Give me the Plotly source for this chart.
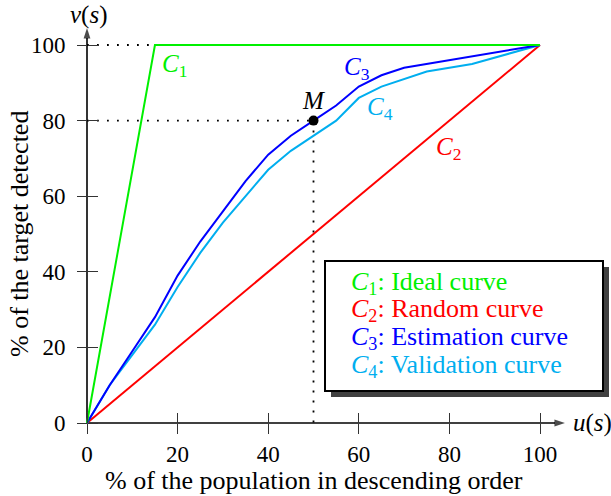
import plotly.graph_objects as go

# ---------------- data ----------------
tick_vals = [0, 20, 40, 60, 80, 100]
tick_text = ["0", "20", "40", "60", "80", "100"]

c1_x = [0, 15, 100]
c1_y = [0, 100, 100]
c2_x = [0, 100]
c2_y = [0, 100]
c3_x = [0, 5, 10, 15, 20, 25, 30, 35, 40, 45, 50, 55, 60, 65, 70, 85, 100]
c3_y = [0, 10, 19, 28, 39, 48, 56, 64, 71, 76, 80, 84, 89, 92, 94, 97, 100]
c4_x = [0, 5, 10, 15, 20, 25, 30, 35, 40, 45, 50, 55, 60, 65, 75, 85, 100]
c4_y = [0, 10, 18, 26, 36, 45, 53, 60, 67, 72, 76, 80, 86, 89, 93, 95, 100]
m_x, m_y = 50, 80
x_axis_end, y_axis_end = 105.5, 104.5

legend_names = ["Ideal curve", "Random curve", "Estimation curve", "Validation curve"]

# ---------------- style ----------------
GREEN = "#00f000"
RED = "#ff0000"
BLUE = "#0000ff"
CYAN = "#00aeef"
FONT = "Liberation Serif"

W, H = 611, 496
OX, OY = 87, 423          # pixel position of the origin
PX_X = 4.53               # px per unit
PX_Y = 3.78
xr = [-OX / PX_X, (W - OX) / PX_X]
yr = [-(H - OY) / PX_Y, OY / PX_Y]


def px2x(p):
    return (p - OX) / PX_X


def px2y(p):
    return (OY - p) / PX_Y


fig = go.Figure()

dot = dict(color="black", width=1.8, dash="1.8px,8.2px")
fig.add_trace(go.Scatter(x=[0, c1_x[1]], y=[100, 100], mode="lines", line=dot, hoverinfo="skip"))
fig.add_trace(go.Scatter(x=[0, m_x], y=[m_y, m_y], mode="lines", line=dot, hoverinfo="skip"))
fig.add_trace(go.Scatter(x=[m_x, m_x], y=[m_y, 0], mode="lines", line=dot, hoverinfo="skip"))

# axis lines with arrow heads
arrow_marker = dict(symbol="arrow", size=[0, 11], angleref="previous", color="black",
                    line=dict(width=0))
fig.add_trace(go.Scatter(x=[0, x_axis_end], y=[0, 0], mode="lines+markers",
                         line=dict(color="black", width=1.6), marker=arrow_marker, hoverinfo="skip"))
fig.add_trace(go.Scatter(x=[0, 0], y=[0, y_axis_end], mode="lines+markers",
                         line=dict(color="black", width=1.6), marker=arrow_marker, hoverinfo="skip"))

fig.add_trace(go.Scatter(x=c2_x, y=c2_y, mode="lines", line=dict(color=RED, width=2)))
fig.add_trace(go.Scatter(x=c4_x, y=c4_y, mode="lines", line=dict(color=CYAN, width=2)))
fig.add_trace(go.Scatter(x=c3_x, y=c3_y, mode="lines", line=dict(color=BLUE, width=2)))
fig.add_trace(go.Scatter(x=c1_x, y=c1_y, mode="lines", line=dict(color=GREEN, width=2)))

# point M on overlay axes (those axes provide the inner half of the tick marks)
fig.add_trace(go.Scatter(x=[m_x], y=[m_y], mode="markers", xaxis="x2", yaxis="y2",
                         marker=dict(color="black", size=10)))

xpos = (0 - yr[0]) / (yr[1] - yr[0])
ypos = (0 - xr[0]) / (xr[1] - xr[0])
axis_common = dict(showgrid=False, zeroline=False, showline=False,
                   tickvals=tick_vals, ticklen=10, tickwidth=1.2, tickcolor="#333")
tfont = dict(family=FONT, size=23, color="black")
fig.update_layout(
    width=W, height=H,
    margin=dict(l=0, r=0, t=0, b=0, pad=0),
    plot_bgcolor="white", paper_bgcolor="white",
    showlegend=False,
    xaxis=dict(axis_common, range=xr, ticktext=tick_text, ticks="outside", anchor="free",
               position=xpos, side="bottom", tickfont=tfont, ticklabelstandoff=0),
    yaxis=dict(axis_common, range=yr, ticktext=tick_text, ticks="outside", anchor="free",
               position=ypos, side="left", tickfont=tfont, ticklabelstandoff=7),
    xaxis2=dict(axis_common, range=xr, overlaying="x", anchor="free", position=xpos,
                side="bottom", ticks="inside", showticklabels=False),
    yaxis2=dict(axis_common, range=yr, overlaying="y", anchor="free", position=ypos,
                side="left", ticks="inside", showticklabels=False),
)

ann = []
big = dict(family=FONT, size=26, color="black")
# axis names
ann.append(dict(x=px2x(571), y=0, xanchor="left", yanchor="middle",
                text="<i>u</i>(<i>s</i>)", showarrow=False, font=dict(family=FONT, size=25, color="black")))
ann.append(dict(x=px2x(89), y=px2y(15), xanchor="center", yanchor="middle",
                text="<i>v</i>(<i>s</i>)", showarrow=False, font=dict(family=FONT, size=25, color="black")))
# axis titles
ann.append(dict(x=px2x(314), y=px2y(480), xanchor="center", yanchor="middle",
                text="% of the population in descending order", showarrow=False, font=big))
ann.append(dict(x=px2x(19), y=px2y(234), xanchor="center", yanchor="middle",
                textangle=-90, text="% of the target detected", showarrow=False, font=big))


# curve labels
def lab_font(c):
    return dict(family=FONT, size=25, color=c)


ann.append(dict(x=19.4, y=94.7, text="<i>C</i><sub>1</sub>", showarrow=False, font=lab_font(GREEN)))
ann.append(dict(x=59.7, y=93.9, text="<i>C</i><sub>3</sub>", showarrow=False, font=lab_font(BLUE)))
ann.append(dict(x=64.7, y=83.3, text="<i>C</i><sub>4</sub>", showarrow=False, font=lab_font(CYAN)))
ann.append(dict(x=79.7, y=72.7, text="<i>C</i><sub>2</sub>", showarrow=False, font=lab_font(RED)))
ann.append(dict(x=49.9, y=85.4, text="<i>M</i>", showarrow=False, font=lab_font("black")))

# legend box (shadow + frame)
shapes = [
    dict(type="rect", xref="x", yref="y", x0=px2x(331), x1=px2x(609), y0=px2y(267), y1=px2y(397),
         fillcolor="#404040", line=dict(width=0), layer="above"),
    dict(type="rect", xref="x", yref="y", x0=px2x(325), x1=px2x(603), y0=px2y(261), y1=px2y(391),
         fillcolor="white", line=dict(color="black", width=2), layer="above"),
]
colors = [GREEN, RED, BLUE, CYAN]
rows_px = [283, 310, 338, 366]
for i, (name, col, ry) in enumerate(zip(legend_names, colors, rows_px)):
    ann.append(dict(x=px2x(349), y=px2y(ry), xanchor="left", yanchor="middle",
                    text=f"<i>C</i><sub>{i + 1}</sub>: {name}", showarrow=False,
                    font=dict(family=FONT, size=26, color=col)))

fig.update_layout(annotations=ann, shapes=shapes)
fig.write_html("out.html", config={"displayModeBar": False},
               post_script="document.body.style.margin='0px';")
